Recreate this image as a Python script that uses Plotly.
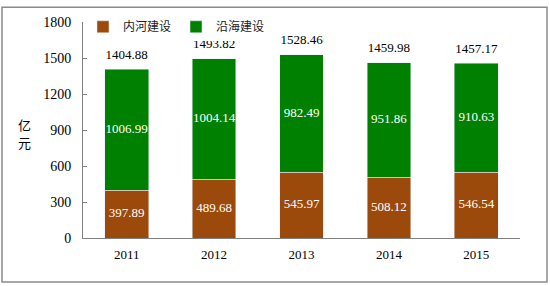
import plotly.graph_objects as go

years = ["2011", "2012", "2013", "2014", "2015"]
inland = [397.89, 489.68, 545.97, 508.12, 546.54]
coastal = [1006.99, 1004.14, 982.49, 951.86, 910.63]
totals = [1404.88, 1493.82, 1528.46, 1459.98, 1457.17]
yticks = [0, 300, 600, 900, 1200, 1500, 1800]

serif = "Liberation Serif"
cjk = "Noto Sans CJK SC"
xpos = list(range(len(years)))

inland_mid = [v / 2 for v in inland]
coastal_mid = [a + b / 2 for a, b in zip(inland, coastal)]

fig = go.Figure()
fig.add_trace(go.Bar(
    x=xpos, y=inland, name="内河建设", marker=dict(color="#9C4A0C"),
    width=0.5, hoverinfo="skip",
))
fig.add_trace(go.Bar(
    x=xpos, y=coastal, name="沿海建设", marker=dict(color="#008000"),
    width=0.5, hoverinfo="skip",
))
fig.add_trace(go.Scatter(
    x=xpos, y=inland_mid, mode="text", text=[f"{v:.2f}" for v in inland],
    textposition="middle center", showlegend=False, hoverinfo="skip",
    cliponaxis=False, textfont=dict(color="white", size=13, family=serif),
))
fig.add_trace(go.Scatter(
    x=xpos, y=coastal_mid, mode="text", text=[f"{v:.2f}" for v in coastal],
    textposition="middle center", showlegend=False, hoverinfo="skip",
    cliponaxis=False, textfont=dict(color="white", size=13, family=serif),
))
fig.add_trace(go.Scatter(
    x=xpos, y=totals, mode="markers+text", text=[f"{t:.2f}" for t in totals],
    marker=dict(size=10, color="rgba(0,0,0,0)"), cliponaxis=False,
    textposition="top center", showlegend=False, hoverinfo="skip",
    textfont=dict(color="black", size=13, family=serif),
))

fig.update_layout(
    width=550, height=286,
    margin=dict(l=83, r=30, t=17, b=48),
    barmode="stack",
    plot_bgcolor="white", paper_bgcolor="white",
    showlegend=True,
    legend=dict(orientation="h", x=0.0, y=1.045, xanchor="left", yanchor="top",
                traceorder="normal",
                font=dict(size=12, family=cjk, color="#222")),
    annotations=[
        dict(xref="paper", yref="paper", x=-0.133, y=0.525, xanchor="center",
             yanchor="middle", text="亿", showarrow=False,
             font=dict(size=13, color="black", family=cjk)),
        dict(xref="paper", yref="paper", x=-0.133, y=0.443, xanchor="center",
             yanchor="middle", text="元", showarrow=False,
             font=dict(size=13, color="black", family=cjk)),
    ],
    shapes=[dict(type="rect", xref="paper", yref="paper",
                 x0=-0.1854, x1=1.0618, y0=-0.2036, y1=1.068,
                 line=dict(color="#8a8a8a", width=1.5))],
)
fig.update_xaxes(range=[-0.5, 4.5], tickmode="array", tickvals=xpos, ticktext=years,
                 showline=True, linecolor="#808080", linewidth=1, showgrid=False,
                 zeroline=False, ticks="", ticklabelstandoff=4,
                 tickfont=dict(size=13, family=serif, color="black"))
fig.update_yaxes(range=[0, 1800], tickmode="array", tickvals=yticks, showgrid=False,
                 showline=True, linecolor="#808080", linewidth=1,
                 ticks="inside", ticklen=4, tickcolor="#808080", ticklabelstandoff=8,
                 tickfont=dict(size=14, family=serif, color="black"),
                 zeroline=False)

fig.write_html("out.html")
